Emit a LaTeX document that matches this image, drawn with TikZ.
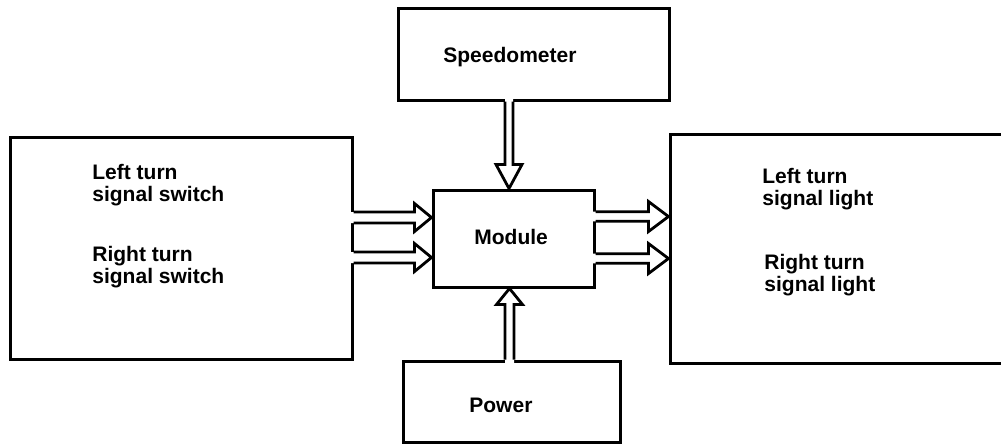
\documentclass[tikz,border=0pt]{standalone}
\usepackage{fontspec}
\setmainfont{Liberation Sans}
\usetikzlibrary{calc}

\tikzset{
  box/.style={draw, rectangle, line width=1.5pt, inner sep=0pt},
  txt/.style={anchor=base west, align=left, inner sep=0pt,
    font=\bfseries\fontsize{10.5}{10.6}\selectfont},
  arrowline/.style={line width=1.4pt, line join=miter}
}

% hollow block arrow: from, to, shaft half width, head half width, head length
\newcommand{\blockarrow}[5]{%
  \coordinate (ba-h) at ($(#2)!#5!(#1)$);
  \coordinate (ba-b) at ($(#1)!-2pt!(#2)$);
  \fill[white] ($(ba-b)!#3!90:(#2)$) -- ($(ba-h)!#3!90:(#2)$) -- ($(ba-h)!#4!90:(#2)$) -- (#2)
    -- ($(ba-h)!#4!-90:(#2)$) -- ($(ba-h)!#3!-90:(#2)$) -- ($(ba-b)!#3!-90:(#2)$) -- cycle;
  \draw[arrowline] ($(#1)!#3!90:(#2)$) -- ($(ba-h)!#3!90:(#2)$) -- ($(ba-h)!#4!90:(#2)$) -- (#2)
    -- ($(ba-h)!#4!-90:(#2)$) -- ($(ba-h)!#3!-90:(#2)$) -- ($(#1)!#3!-90:(#2)$);
}

\begin{document}
\begin{tikzpicture}[x=0.5pt, y=-0.5pt]

\useasboundingbox (0,0) rectangle (1001,446);

% Boxes
\node (lbox) [box, minimum width=171pt, minimum height=111pt] at (181,248) {};
\node (rbox) [box, minimum width=171pt, minimum height=114.5pt] at (841,248.5) {};
\node (speedo) [box, minimum width=135.5pt, minimum height=46pt] at (533.5,54) {};
\node (module) [box, minimum width=80.5pt, minimum height=48.5pt] at (513.5,238.5) {};
\node (power) [box, minimum width=108.5pt, minimum height=40.5pt] at (511.5,401.5) {};

% Labels (base = last line)
\node (speedotxt) [txt] at (443,62) {Speedometer};
\node (moduletxt) [txt] at (474,244) {Module};
\node (powertxt) [txt] at (469,412) {Power};
\node (lswitch) [txt] at (92,201) {Left turn\\signal switch};
\node (rswitch) [txt] at (92,283) {Right turn\\signal switch};
\node (llight) [txt] at (762,205) {Left turn\\signal light};
\node (rlight) [txt] at (764,291) {Right turn\\signal light};

% Arrow ends
\coordinate (la1) at ($(lbox.east)+(0,-30.5)$);
\coordinate (la2) at ($(lbox.east)+(0,9.5)$);
\coordinate (lt1) at (module.west |- la1);
\coordinate (lt2) at (module.west |- la2);
\coordinate (ra1) at ($(module.east)+(0,-22)$);
\coordinate (ra2) at ($(module.east)+(0,20)$);
\coordinate (rt1) at (rbox.west |- ra1);
\coordinate (rt2) at (rbox.west |- ra2);
\coordinate (sa) at ($(speedo.south)+(-24.5,0)$);
\coordinate (st) at (sa |- module.north);
\coordinate (pa) at ($(power.north)+(-2,0)$);
\coordinate (pt) at (pa |- module.south);

% Arrows
\blockarrow{la1}{lt1}{2.75pt}{7pt}{8.5pt}
\blockarrow{la2}{lt2}{2.75pt}{7pt}{8.5pt}
\blockarrow{ra1}{rt1}{2.4pt}{7.5pt}{10pt}
\blockarrow{ra2}{rt2}{2.4pt}{7.5pt}{10pt}
\blockarrow{sa}{st}{2pt}{6.5pt}{12pt}
\blockarrow{pa}{pt}{2.25pt}{6.5pt}{8pt}

\end{tikzpicture}
\end{document}
